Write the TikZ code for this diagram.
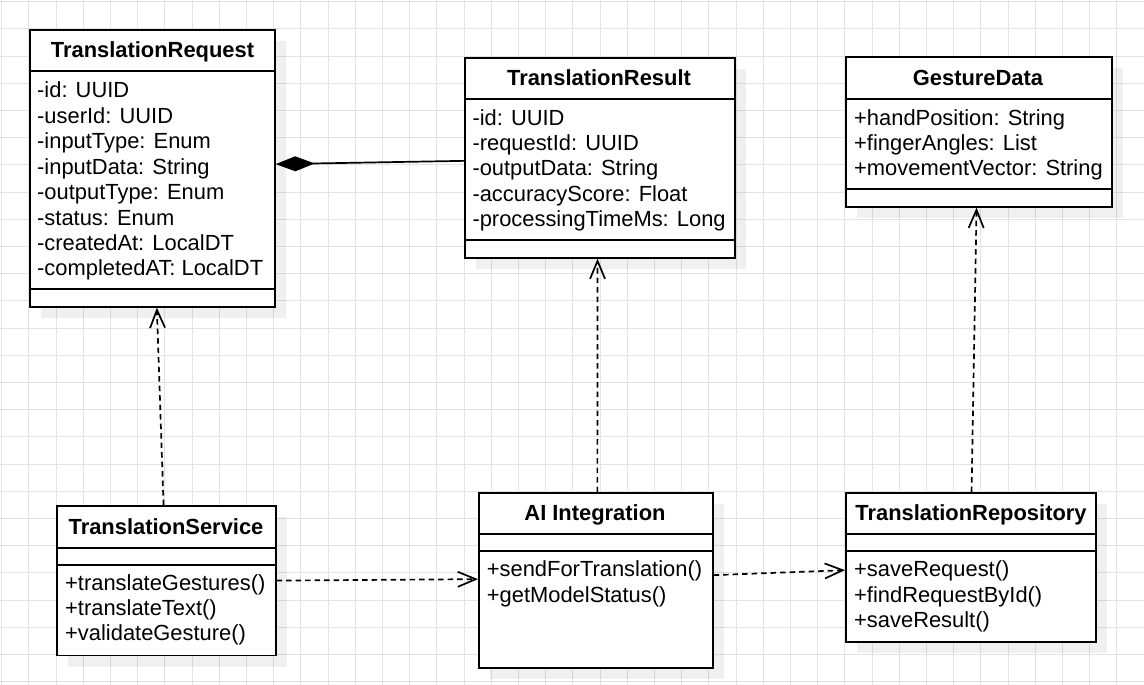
\documentclass[tikz,border=0pt]{standalone}
\usepackage{fontspec}
\setmainfont{Liberation Sans}
\usetikzlibrary{arrows.meta}
\definecolor{gridc}{HTML}{E3E3E3}
\begin{document}
\begin{tikzpicture}[x=1pt,y=-1pt,
  box/.style={draw=black,fill=white,line width=1.7pt,inner sep=0pt,anchor=north west},
  sepline/.style={line width=1.7pt},
  gridline/.style={draw=gridc,line width=1.1pt},
  hdr/.style={font=\fontsize{21.9}{25.4}\selectfont\bfseries,anchor=base,inner sep=0pt},
  attr/.style={font=\fontsize{21.9}{25.4}\selectfont,anchor=base west,inner sep=0pt},
  shadowbox/.style={fill=black,fill opacity=0.06},
  dep/.style={line width=1.7pt,dash pattern=on 5.5pt off 4pt,-{Straight Barb[length=18pt,width=15pt]}},
  comp/.style={line width=1.7pt,-{Diamond[length=39pt,width=15pt]}}
]
\useasboundingbox (0,0) rectangle (1144,685);
\fill[white] (0,0) rectangle (1144,685);
% grid
\foreach \i in {0,...,42} \draw[gridline] ({1.7+27.2*\i},0) -- ({1.7+27.2*\i},685);
\foreach \j in {0,...,25} \draw[gridline] (0,{1.7+27.2*\j}) -- (1144,{1.7+27.2*\j});

% shadows
\fill[shadowbox] (41,41) rectangle (286,318);
\fill[shadowbox] (476,69) rectangle (746,269);
\fill[shadowbox] (857,68) rectangle (1123,218);
\fill[shadowbox] (68,517) rectangle (287,666.5);
\fill[shadowbox] (490,504) rectangle (724,679);
\fill[shadowbox] (857,504) rectangle (1107,653);

% boxes
\node[box,minimum width=245pt,minimum height=277pt] (req) at (29,29) {};
\node[box,minimum width=270pt,minimum height=200pt] (res) at (464,57) {};
\node[box,minimum width=266pt,minimum height=150pt] (gd) at (845,56) {};
\node[box,minimum width=219pt,minimum height=149.5pt] (svc) at (56,505) {};
\node[box,minimum width=234pt,minimum height=175pt] (ai) at (478,492) {};
\node[box,minimum width=250pt,minimum height=149pt] (repo) at (845,492) {};

% compartment lines
\draw[sepline] (29,71) -- (274,71);
\draw[sepline] (29,289) -- (274,289);
\draw[sepline] (464,99) -- (734,99);
\draw[sepline] (464,240) -- (734,240);
\draw[sepline] (845,99.3) -- (1111,99.3);
\draw[sepline] (845,189.3) -- (1111,189.3);
\draw[sepline] (56,547.7) -- (275,547.7);
\draw[sepline] (56,565) -- (275,565);
\draw[sepline] (478,534) -- (712,534);
\draw[sepline] (478,551) -- (712,551);
\draw[sepline] (845,534) -- (1095,534);
\draw[sepline] (845,551) -- (1095,551);

% headers
\node[hdr] (reqT) at (152.5,57.8) {TranslationRequest};
\node[hdr] (resT) at (599,86) {TranslationResult};
\node[hdr] (gdT) at (978,85) {GestureData};
\node[hdr] (svcT) at (166,534) {TranslationService};
\node[hdr] (aiT) at (595,520.7) {AI Integration};
\node[hdr] (repoT) at (971,520.7) {TranslationRepository};

% members
\foreach \t [count=\i from 0] in {-id: UUID,-userId: UUID,-inputType: Enum,-inputData: String,-outputType: Enum,-status: Enum,-createdAt: LocalDT,-completedAT: LocalDT}
  \node[attr] (reqA\i) at (37,{98+25.4*\i}) {\t};
\foreach \t [count=\i from 0] in {-id: UUID,-requestId: UUID,-outputData: String,-accuracyScore: Float,-processingTimeMs: Long}
  \node[attr] (resA\i) at (472.3,{125+25.4*\i}) {\t};
\foreach \t [count=\i from 0] in {+handPosition: String,+fingerAngles: List,+movementVector: String}
  \node[attr] (gdA\i) at (854,{125+25.4*\i}) {\t};
\foreach \t [count=\i from 0] in {+translateGestures(),+translateText(),+validateGesture()}
  \node[attr] (svcM\i) at (65,{590+25.4*\i}) {\t};
\foreach \t [count=\i from 0] in {+sendForTranslation(),+getModelStatus()}
  \node[attr] (aiM\i) at (486.7,{576.7+25.4*\i}) {\t};
\foreach \t [count=\i from 0] in {+saveRequest(),+findRequestById(),+saveResult()}
  \node[attr] (repoM\i) at (854,{576.7+25.4*\i}) {\t};

% connectors
\draw[comp] ([yshift=-3pt]res.west) -- ([yshift=4.2pt]req.east);
\draw[dep] ([xshift=-2.8pt]svc.north) -- ([xshift=4.5pt]req.south);
\draw[dep] ([xshift=1.5pt]ai.north) -- ([xshift=-2.3pt]res.south);
\draw[dep] ([xshift=0.7pt]repo.north) -- ([xshift=-2.3pt]gd.south);
\draw[dep] (svc.east) -- ([yshift=1.2pt]ai.west);
\draw[dep] ([yshift=5.2pt]ai.east) -- ([yshift=-2.8pt]repo.west);
\end{tikzpicture}
\end{document}
